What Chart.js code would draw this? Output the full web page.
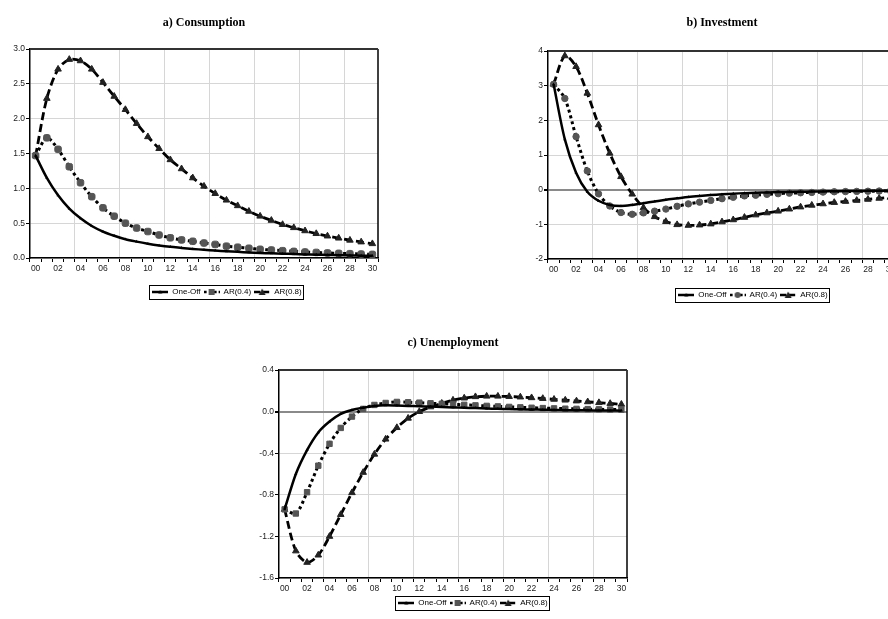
<!DOCTYPE html>
<html>
<head>
<meta charset="utf-8">
<script src="https://cdn.jsdelivr.net/npm/chart.js@4.4.1/dist/chart.umd.min.js"></script>
<style>
    html, body { margin: 0; padding: 0; background: #fff; }
    body { width: 888px; height: 619px; position: relative; overflow: hidden; }
    canvas { position: absolute; }
</style>
</head>
<body>
<canvas id="chartA" width="454" height="310" style="left:0px; top:0px;"></canvas>
<canvas id="chartB" width="466" height="310" style="left:520px; top:0px;"></canvas>
<canvas id="chartC" width="466" height="299" style="left:240px; top:320px;"></canvas>
<script>
// periods after the shock
const periods = ['00','01','02','03','04','05','06','07','08','09','10','11','12','13','14','15',
                 '16','17','18','19','20','21','22','23','24','25','26','27','28','29','30'];
const seriesNames = ['One-Off', 'AR(0.4)', 'AR(0.8)'];

// a) Consumption
const consOneOff = [1.47, 1.15, 0.90, 0.71, 0.57, 0.46, 0.38, 0.32, 0.27, 0.235, 0.205, 0.18, 0.16, 0.145, 0.13, 0.118,
                    0.107, 0.097, 0.088, 0.08, 0.073, 0.067, 0.062, 0.057, 0.052, 0.048, 0.044, 0.04, 0.037, 0.034, 0.031];
const consAR04 = [1.47, 1.725, 1.56, 1.31, 1.08, 0.88, 0.72, 0.60, 0.50, 0.43, 0.38, 0.33, 0.29, 0.26, 0.24, 0.215,
                  0.195, 0.17, 0.155, 0.14, 0.125, 0.115, 0.105, 0.095, 0.087, 0.08, 0.073, 0.067, 0.062, 0.057, 0.052];
const consAR08 = [1.47, 2.29, 2.71, 2.85, 2.83, 2.71, 2.52, 2.32, 2.13, 1.93, 1.74, 1.57, 1.41, 1.28, 1.15, 1.03,
                  0.925, 0.83, 0.75, 0.67, 0.60, 0.54, 0.48, 0.435, 0.39, 0.35, 0.315, 0.285, 0.255, 0.23, 0.205];
const consYTicks = [0, 0.5, 1.0, 1.5, 2.0, 2.5, 3.0];

// b) Investment
const invOneOff = [3.04, 1.45, 0.49, -0.06, -0.32, -0.44, -0.47, -0.44, -0.39, -0.34, -0.29, -0.25, -0.21, -0.18, -0.155, -0.135,
                   -0.115, -0.10, -0.09, -0.08, -0.07, -0.065, -0.06, -0.055, -0.05, -0.045, -0.04, -0.037, -0.034, -0.031, -0.028];
const invAR04 = [3.04, 2.63, 1.53, 0.54, -0.12, -0.47, -0.66, -0.71, -0.67, -0.62, -0.56, -0.48, -0.41, -0.36, -0.31, -0.26,
                 -0.22, -0.18, -0.16, -0.135, -0.115, -0.10, -0.09, -0.08, -0.07, -0.06, -0.055, -0.05, -0.045, -0.04, -0.035];
const invAR08 = [3.04, 3.86, 3.55, 2.78, 1.87, 1.05, 0.375, -0.13, -0.52, -0.78, -0.92, -1.01, -1.03, -1.02, -0.99, -0.93,
                 -0.87, -0.80, -0.73, -0.67, -0.62, -0.56, -0.50, -0.45, -0.41, -0.37, -0.34, -0.31, -0.28, -0.25, -0.22];
const invYTicks = [-2, -1, 0, 1, 2, 3, 4];

// c) Unemployment
const unempOneOff = [-0.94, -0.60, -0.37, -0.20, -0.096, -0.022, 0.016, 0.038, 0.054, 0.06, 0.058, 0.055, 0.052, 0.048, 0.045, 0.04,
                     0.037, 0.034, 0.03, 0.027, 0.025, 0.022, 0.02, 0.018, 0.016, 0.014, 0.013, 0.012, 0.011, 0.01, 0.009];
const unempAR04 = [-0.94, -0.98, -0.775, -0.52, -0.31, -0.157, -0.048, 0.026, 0.064, 0.083, 0.093, 0.09, 0.086, 0.08, 0.075, 0.07,
                   0.065, 0.06, 0.055, 0.05, 0.045, 0.041, 0.037, 0.034, 0.031, 0.028, 0.026, 0.024, 0.022, 0.02, 0.018];
const unempAR08 = [-0.94, -1.34, -1.45, -1.38, -1.20, -0.99, -0.78, -0.585, -0.41, -0.265, -0.154, -0.064, 0.0, 0.045, 0.08, 0.11,
                   0.13, 0.143, 0.148, 0.148, 0.145, 0.14, 0.133, 0.126, 0.118, 0.11, 0.102, 0.094, 0.086, 0.078, 0.07];
const unempYTicks = [-1.6, -1.2, -0.8, -0.4, 0.0, 0.4];

const tickFont = { family: "'Liberation Sans', Arial, sans-serif", size: 8.5 };
const gridGrey = '#d6d6d6';

// little line+marker swatches for the legend
function legendSample(dash, marker, fill) {
    const c = document.createElement('canvas');
    c.width = 16; c.height = 10;
    const g = c.getContext('2d');
    g.strokeStyle = '#000';
    g.lineWidth = 2.5;
    g.setLineDash(dash);
    g.beginPath(); g.moveTo(0, 5); g.lineTo(16, 5); g.stroke();
    g.setLineDash([]);
    g.fillStyle = fill;
    g.beginPath();
    if (marker === 'triangle') {
        g.moveTo(8, 1.5); g.lineTo(11.5, 8); g.lineTo(4.5, 8); g.closePath();
    } else if (marker === 'circle') {
        g.arc(8, 5, 3, 0, Math.PI * 2);
    } else if (marker === 'small') {
        g.moveTo(8, 3); g.lineTo(10, 6.5); g.lineTo(6, 6.5); g.closePath();
    } else {
        g.rect(5, 2, 6, 6);
    }
    g.fill();
    return c;
}

const framePlugin = {
    id: 'frame',
    afterDatasetsDraw(chart) {
        const { ctx, chartArea: a } = chart;
        ctx.save();
        ctx.strokeStyle = '#000';
        ctx.lineWidth = 1.5;
        ctx.beginPath(); ctx.moveTo(a.right, a.top); ctx.lineTo(a.right, a.bottom); ctx.stroke();
        ctx.strokeStyle = '#333';
        ctx.lineWidth = 2;
        ctx.beginPath(); ctx.moveTo(a.left, a.top); ctx.lineTo(a.right, a.top); ctx.stroke();
        ctx.restore();
    }
};

const legendBoxPlugin = {
    id: 'legendBox',
    afterDraw(chart) {
        const boxes = chart.legend && chart.legend.legendHitBoxes;
        if (!boxes || !boxes.length) return;
        let l = Infinity, t = Infinity, r = -Infinity, b = -Infinity;
        boxes.forEach(h => {
            l = Math.min(l, h.left); t = Math.min(t, h.top);
            r = Math.max(r, h.left + h.width); b = Math.max(b, h.top + h.height);
        });
        const ctx = chart.ctx;
        ctx.save();
        ctx.strokeStyle = '#000';
        ctx.lineWidth = 1;
        ctx.strokeRect(Math.round(l - 3) + 0.5, Math.round(t - 3) + 0.5, Math.round(r - l + 5), Math.round(b - t + 6));
        ctx.restore();
    }
};

function makeChart(id, title, values, yTicks, opts) {
    const samples = [
        legendSample([], 'small', '#000'),
        legendSample([3, 2], opts.marker04 === 'circle' ? 'circle' : 'rect', '#555'),
        legendSample([6, 3], 'triangle', '#222')
    ];
    const ctx = document.getElementById(id);
    return new Chart(ctx, {
        type: 'line',
        plugins: [framePlugin, legendBoxPlugin],
        data: {
            labels: periods,
            datasets: [
                {
                    label: seriesNames[0],
                    data: values[0],
                    borderColor: '#000',
                    borderWidth: 2.5,
                    pointStyle: 'triangle',
                    pointRadius: 1.8,
                    pointBackgroundColor: '#000',
                    pointBorderColor: '#000',
                    pointBorderWidth: 0,
                },
                {
                    label: seriesNames[1],
                    data: values[1],
                    borderColor: '#000',
                    borderWidth: 3,
                    borderDash: [3, 3],
                    pointStyle: opts.marker04,
                    pointRadius: opts.marker04 === 'circle' ? 3.2 : 3.8,
                    pointBackgroundColor: '#555',
                    pointBorderColor: '#555',
                    pointBorderWidth: 1,
                },
                {
                    label: seriesNames[2],
                    data: values[2],
                    borderColor: '#000',
                    borderWidth: 2.8,
                    borderDash: [8, 4],
                    pointStyle: 'triangle',
                    pointRadius: 3.8,
                    pointBackgroundColor: '#222',
                    pointBorderColor: '#222',
                    pointBorderWidth: 1,
                }
            ]
        },
        options: {
            responsive: false,
            animation: false,
            devicePixelRatio: 1,
            elements: {
                line: { tension: 0.3, fill: false, borderCapStyle: 'butt' }
            },
            layout: { padding: { top: 0, bottom: opts.padBottom, left: 0, right: 0 } },
            plugins: {
                title: {
                    display: true,
                    text: title,
                    fullSize: false,
                    color: '#000',
                    font: { family: "'Liberation Serif', 'Times New Roman', serif", size: 12, weight: 'bold' },
                    padding: { top: 16, bottom: opts.titleGap }
                },
                legend: {
                    position: 'bottom',
                    labels: {
                        usePointStyle: true,
                        pointStyleWidth: 16,
                        padding: 3,
                        color: '#000',
                        font: { family: "'Liberation Sans', Arial, sans-serif", size: 8 },
                        generateLabels: (chart) => {
                            const items = Chart.defaults.plugins.legend.labels.generateLabels(chart);
                            items.forEach((it, i) => { it.pointStyle = samples[i]; });
                            return items;
                        }
                    }
                },
                tooltip: { enabled: false }
            },
            scales: {
                x: {
                    type: 'category',
                    offset: true,
                    grid: {
                        offset: true,
                        color: (c) => (c.index !== undefined && c.index > 0 && c.index % 4 === 0) ? gridGrey : 'rgba(0,0,0,0)',
                        tickColor: '#000',
                        tickLength: 4,
                        lineWidth: 1
                    },
                    border: { display: true, color: '#000', width: 1.5 },
                    ticks: {
                        autoSkip: false,
                        maxRotation: 0,
                        padding: 2,
                        color: '#222',
                        font: tickFont,
                        callback: (v, i) => (i % 2 === 0 ? periods[i] : '')
                    },
                    afterFit: (s) => { s.height = opts.xHeight; }
                },
                y: {
                    min: yTicks[0],
                    max: yTicks[yTicks.length - 1],
                    afterBuildTicks: (s) => { s.ticks = yTicks.map(v => ({ value: v })); },
                    grid: {
                        color: (c) => (opts.zeroLine && c.tick && Math.abs(c.tick.value) < 1e-9) ? '#8a8a8a' : gridGrey,
                        lineWidth: (c) => (opts.zeroLine && c.tick && Math.abs(c.tick.value) < 1e-9) ? 2 : 1,
                        tickColor: '#000',
                        tickLength: 4
                    },
                    border: { display: true, color: '#000', width: 1.5 },
                    ticks: {
                        padding: 1,
                        color: '#222',
                        font: tickFont,
                        callback: (v) => opts.fmt(v)
                    },
                    afterFit: (s) => { s.width = opts.yWidth; }
                },
                pad: {
                    type: 'linear',
                    position: 'right',
                    display: true,
                    grid: { display: false, drawTicks: false },
                    border: { display: false },
                    ticks: { display: false },
                    afterFit: (s) => { s.width = opts.padRight; }
                }
            }
        }
    });
}

makeChart('chartA', 'a) Consumption', [consOneOff, consAR04, consAR08], consYTicks, {
    marker04: 'rectRounded', yWidth: 30, padRight: 76, titleGap: 18.6, xHeight: 27, padBottom: 4,
    zeroLine: false, fmt: (v) => v.toFixed(1)
});
makeChart('chartB', 'b) Investment', [invOneOff, invAR04, invAR08], invYTicks, {
    marker04: 'circle', yWidth: 28, padRight: 90, titleGap: 20.6, xHeight: 29, padBottom: 1,
    zeroLine: true, fmt: (v) => String(Math.round(v))
});
makeChart('chartC', 'c) Unemployment', [unempOneOff, unempAR04, unempAR08], unempYTicks, {
    marker04: 'rect', yWidth: 39, padRight: 79, titleGap: 19.6, xHeight: 18, padBottom: 2,
    zeroLine: true, fmt: (v) => (Math.abs(v) < 1e-9 ? '0.0' : v.toFixed(1))
});
</script>
</body>
</html>
